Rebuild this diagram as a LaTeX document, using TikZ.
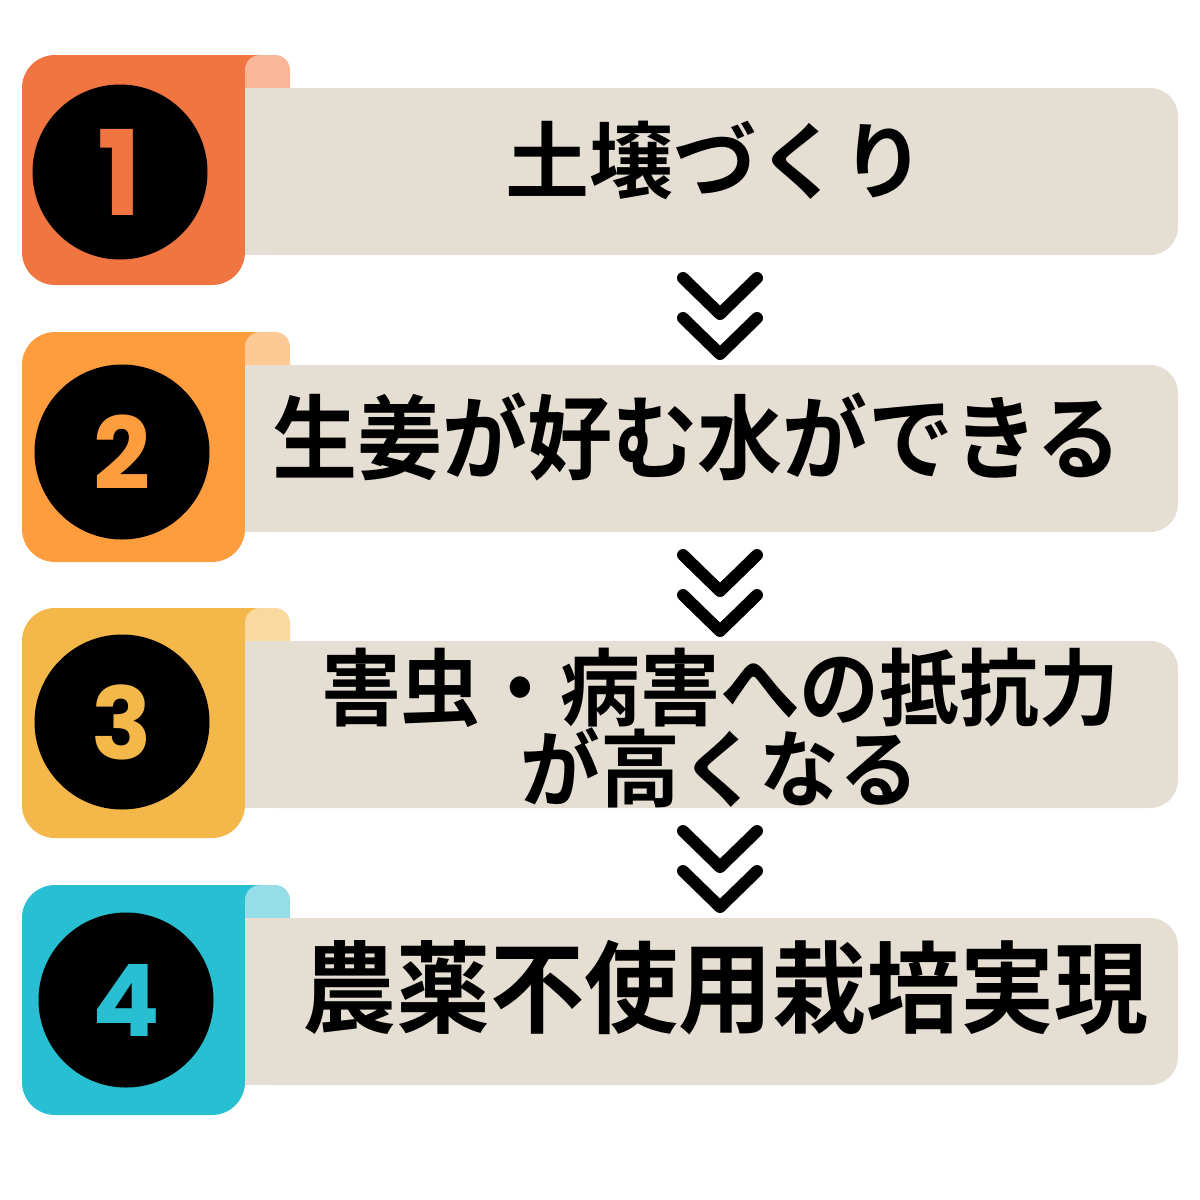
\documentclass[tikz,border=0pt]{standalone}
\usepackage{fontspec}
\newfontfamily\jpfont{Noto Sans CJK JP}[BoldFont={Noto Sans CJK JP Bold}]
\newfontfamily\numfont{Poppins}[BoldFont={Poppins Bold}]
\definecolor{step1}{HTML}{F07540}
\definecolor{tab1}{HTML}{F9B699}
\definecolor{step2}{HTML}{FD9D3E}
\definecolor{tab2}{HTML}{FDC995}
\definecolor{step3}{HTML}{F4B84A}
\definecolor{tab3}{HTML}{FAD9A0}
\definecolor{step4}{HTML}{29BFD2}
\definecolor{tab4}{HTML}{95DEE8}
\definecolor{paper}{HTML}{E5DED3}

\begin{document}
\begin{tikzpicture}[x=1pt,y=-1pt,
    numcircle/.style={circle,fill=black,minimum size=175pt,inner sep=0pt,font=\numfont\bfseries\fontsize{#1}{#1}\selectfont},
    steptext/.style={font=\jpfont\bfseries\fontsize{#1}{#1}\selectfont,align=center,inner sep=0pt},
    chevron/.style={line width=12pt,line cap=round,line join=round}]
    \useasboundingbox (0,0) rectangle (1200,1200);
    % step 1
    \fill[step1,rounded corners=33pt] (22,55) rectangle (245,285);
    \fill[step1] (200,55) rectangle (262,100);
    \fill[tab1,rounded corners=15pt] (245,55) rectangle (290,120);
    \fill[paper,rounded corners=28pt] (245,88) rectangle (1178,255);
    \fill[paper] (245,88) rectangle (300,255);
    \node[numcircle=118,text=step1] (n1) at (120,172) {1};
    \node[steptext=84] (t1) at (715,160) {土壌づくり};
    % step 2
    \fill[step2,rounded corners=33pt] (22,332) rectangle (245,562);
    \fill[step2] (200,332) rectangle (262,377);
    \fill[tab2,rounded corners=15pt] (245,332) rectangle (290,397);
    \fill[paper,rounded corners=28pt] (245,365) rectangle (1178,532);
    \fill[paper] (245,365) rectangle (300,532);
    \node[numcircle=100,text=step2] (n2) at (122,452) {2};
    \node[steptext=92,xscale=0.925] (t2) at (697,437) {生姜が好む水ができる};
    % step 3
    \fill[step3,rounded corners=33pt] (22,608) rectangle (245,838);
    \fill[step3] (200,608) rectangle (262,653);
    \fill[tab3,rounded corners=15pt] (245,608) rectangle (290,673);
    \fill[paper,rounded corners=28pt] (245,641) rectangle (1178,808);
    \fill[paper] (245,641) rectangle (300,808);
    \node[numcircle=100,text=step3] (n3) at (122,722) {3};
    \node[steptext=84,font=\jpfont\bfseries\fontsize{84}{79}\selectfont,xscale=0.95] (t3) at (720,728) {害虫・病害への抵抗力\\が高くなる};
    % step 4
    \fill[step4,rounded corners=33pt] (22,885) rectangle (245,1115);
    \fill[step4] (200,885) rectangle (262,930);
    \fill[tab4,rounded corners=15pt] (245,885) rectangle (290,950);
    \fill[paper,rounded corners=28pt] (245,918) rectangle (1178,1085);
    \fill[paper] (245,918) rectangle (300,1085);
    \node[numcircle=100,text=step4] (n4) at (126,1000) {4};
    \node[steptext=100,xscale=0.94] (t4) at (725,988) {農薬不使用栽培実現};
    % chevrons
    \draw[chevron] (683,278) -- (720,314) -- (757,278);
    \draw[chevron] (683,318) -- (720,354) -- (757,318);
    \draw[chevron] (683,555) -- (720,591) -- (757,555);
    \draw[chevron] (683,595) -- (720,631) -- (757,595);
    \draw[chevron] (683,831) -- (720,867) -- (757,831);
    \draw[chevron] (683,871) -- (720,907) -- (757,871);
\end{tikzpicture}
\end{document}
